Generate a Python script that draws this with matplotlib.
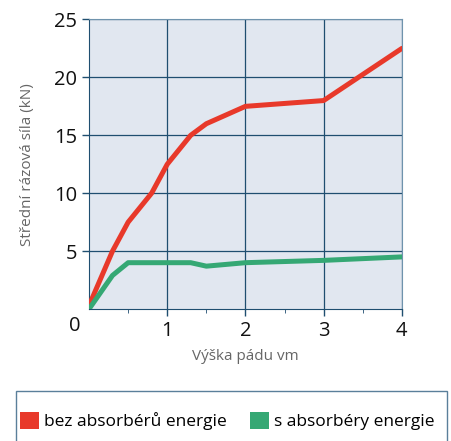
import matplotlib.pyplot as plt
from matplotlib.patches import Patch, Rectangle

plt.rcParams['font.family'] = ['Open Sans', 'DejaVu Sans']

# výška pádu (m) a střední rázová síla (kN)
x_bez = [0, 0.3, 0.5, 0.8, 1.0, 1.3, 1.5, 2.0, 3.0, 4.0]
y_bez = [0.3, 5.0, 7.5, 10.0, 12.5, 15.0, 16.0, 17.5, 18.0, 22.5]
x_s = [0, 0.3, 0.5, 1.3, 1.5, 2.0, 3.0, 4.0]
y_s = [0, 2.9, 4.0, 4.0, 3.7, 4.0, 4.2, 4.5]

labels = ['bez absorbérů energie', 's absorbéry energie']
colors = ['#e8392a', '#35a874']

fig = plt.figure(figsize=(4.52, 4.41), dpi=100)
ax = fig.add_axes([0.197, 0.2993, 0.692, 0.6565])
ax.set_facecolor('#e1e7f0')

ax.plot(x_bez, y_bez, color=colors[0], lw=3.6, solid_capstyle='round', zorder=3)
ax.plot(x_s, y_s, color=colors[1], lw=3.6, solid_capstyle='round', zorder=3)

ax.set_xlim(0, 4)
ax.set_ylim(0, 25)
ax.set_xticks([1, 2, 3, 4])
ax.set_xticks([0.5, 1.5, 2.5, 3.5], minor=True)
ax.set_yticks([5, 10, 15, 20, 25])
ax.tick_params(labelsize=14.5, colors='#1f4e70', labelcolor='#111111', length=5, width=1)
ax.tick_params(which='minor', length=3, colors='#1f4e70')
ax.grid(True, color='#1f4e70', lw=0.9, zorder=1)
ax.annotate('0', xy=(0, 0), xytext=(-10, -5), textcoords='offset points',
            ha='center', va='top', fontsize=14.5, color='#111111')

for s in ['left', 'bottom']:
    ax.spines[s].set_color('#1f4e70')
for s in ['top', 'right']:
    ax.spines[s].set_color('#6f93ad')

ax.set_xlabel('Výška pádu vm', fontsize=11, color='#666666', labelpad=6)
ax.set_ylabel('Střední rázová síla (kN)', fontsize=11, color='#666666', labelpad=14)

# legend frame runs off the bottom edge like in the source
fig.patches.append(Rectangle((16 / 452, -0.05), 431 / 452, 0.05 + 1 - 391 / 441,
                             transform=fig.transFigure, facecolor='white',
                             edgecolor='#5a7f9a', lw=1.0))
handles = [Patch(facecolor=c, edgecolor='none') for c in colors]
fig.legend(handles, labels, loc='upper left', bbox_to_anchor=(20 / 452, 1 - 412 / 441),
           ncol=2, fontsize=12.5, frameon=False,
           handlelength=1.1, handleheight=1.1, handletextpad=0.3,
           columnspacing=1.3, borderpad=0, borderaxespad=0)

fig.savefig('out.png', dpi=100)
